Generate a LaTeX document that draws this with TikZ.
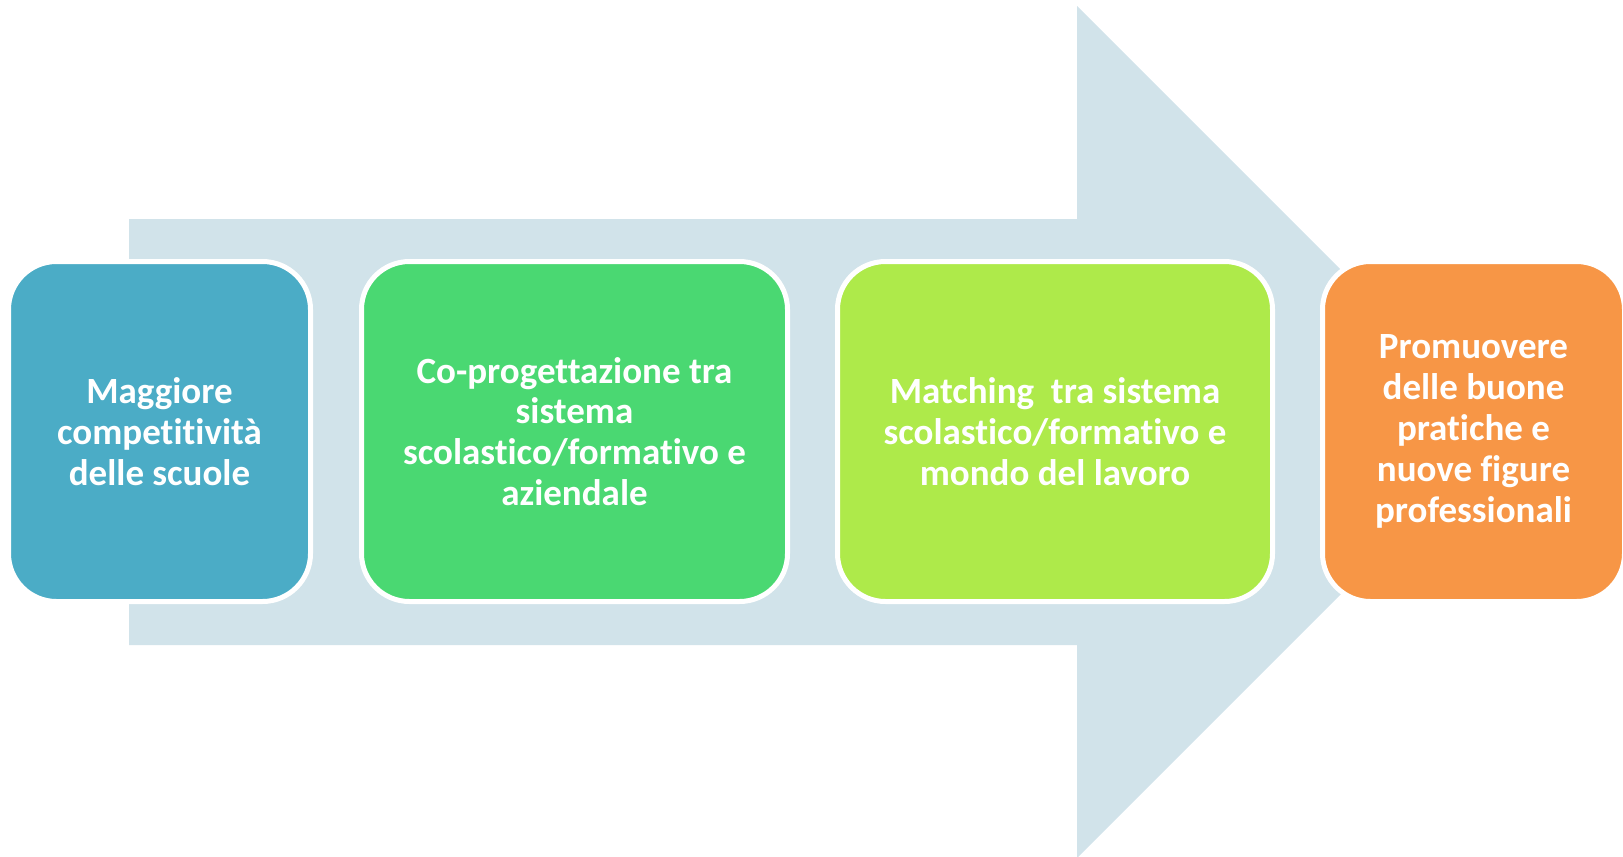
\documentclass[tikz,border=0pt]{standalone}
\usepackage{fontspec}
\setmainfont[Ligatures={NoCommon}]{Carlito}
\definecolor{arrowc}{HTML}{D1E3EA}
\definecolor{bluec}{HTML}{4BACC6}
\definecolor{greenc}{HTML}{4AD872}
\definecolor{limec}{HTML}{AEEA4A}
\definecolor{orangec}{HTML}{F79646}
\begin{document}
\begin{tikzpicture}[x=1pt,y=-1pt,
  stepbox/.style={rectangle, rounded corners=48pt, draw=white, line width=5pt,
    minimum height=340pt, align=center, text=white, inner sep=0pt,
    font=\fontsize{37}{40.8}\selectfont\bfseries}]
\useasboundingbox (0,0) rectangle (1623,857);
\fill[arrowc] (129,219) -- (1077,219) -- (1077,6) -- (1503,432) -- (1077,858) -- (1077,645) -- (129,645) -- cycle;
\node[stepbox, fill=bluec, minimum width=302pt] (b1) at (159.5,431.5) {Maggiore\\competitività\\delle scuole};
\node[stepbox, fill=greenc, minimum width=426pt] (b2) at (574.5,431.5) {Co-progettazione tra\\sistema\\scolastico/formativo e\\aziendale};
\node[stepbox, fill=limec, minimum width=435pt] (b3) at (1055,431.5) {Matching\ \ tra sistema\\scolastico/formativo e\\mondo del lavoro};
\node[stepbox, fill=orangec, minimum width=302pt] (b4) at (1473.5,431.5) {Promuovere\\delle buone\\pratiche e\\nuove figure\\professionali};
\end{tikzpicture}
\end{document}
